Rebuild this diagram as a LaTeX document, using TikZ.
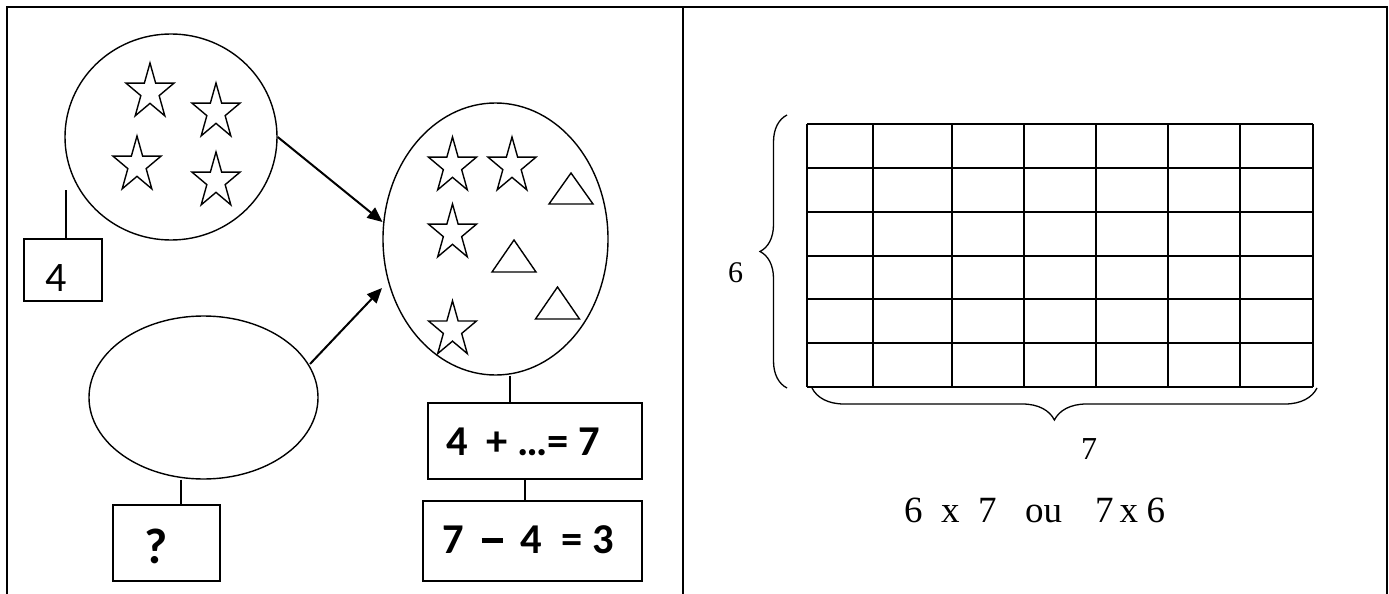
\documentclass[tikz,border=0pt]{standalone}
\usepackage{fontspec}
\setmainfont{Carlito}
\newfontfamily\timesf{Liberation Serif}
\usetikzlibrary{shapes.geometric,arrows.meta,calc,decorations.pathreplacing}
\newcommand{\mystar}[2]{%
  \draw[starline] ({#1},{#2-29.2})
    \foreach \a/\r in {-54/0.382,-18/1,18/0.382,54/1,90/0.382,126/1,162/0.382,198/1,234/0.382}
    { -- ({#1+25.2*\r*cos(\a)},{#2+29.2*\r*sin(\a)}) } -- cycle;}
\newcommand{\mytri}[3]{% apex x, apex y, base y
  \draw[starline] ({#1},{#2}) -- ({#1-22},{#3}) -- ({#1+22},{#3}) -- cycle;}
\newcommand{\bigminus}{\raisebox{10.5pt}{\rule{21pt}{4.2pt}}}
\begin{document}
\begin{tikzpicture}[x=1pt,y=-1pt,
  frameline/.style={line width=2.3pt},
  shp/.style={draw, line width=1.4pt, inner sep=0pt},
  ell/.style={shp, ellipse},
  boxn/.style={shp, rectangle},
  conn/.style={line width=1.4pt},
  arr/.style={line width=2pt, -{Triangle[length=15pt,width=13pt]}},
  starline/.style={line width=1.4pt, line join=miter},
  gridline/.style={line width=2.2pt},
  bracel/.style={decorate, line width=1.3pt},
  calib/.style={inner sep=0pt, anchor=base west, font=\fontsize{42}{42}\selectfont},
  calibb/.style={inner sep=0pt, anchor=base west, font=\fontsize{42.5}{42.5}\selectfont\bfseries},
  tms/.style={inner sep=0pt, anchor=base west, font=\timesf\fontsize{#1}{#1}\selectfont}]
\useasboundingbox (0,0) rectangle (1389,594);
% frame
\draw[frameline] (7,594) -- (7,7) -- (1387,7) -- (1387,594);
\draw[frameline] (683,7) -- (683,594);

% ---------- left panel ----------
\node[ell, minimum width=212pt, minimum height=206pt] (c1) at (171,137) {};
\node[ell, minimum width=225pt, minimum height=272pt] (e2) at (495.5,239) {};
\node[ell, minimum width=229pt, minimum height=163pt] (e3) at (203.5,397.5) {};

\node[boxn, minimum width=78pt, minimum height=62pt] (b4) at (63,270) {};
\node[boxn, minimum width=107pt, minimum height=76pt] (bq) at (166.5,543) {};
\node[boxn, minimum width=214pt, minimum height=76pt] (ba) at (535,441) {};
\node[boxn, minimum width=219pt, minimum height=80pt] (bb) at (532.5,541) {};

\node[calib] (t4) at (45,291) {4};
\node[inner sep=0pt, anchor=base west, font=\fontsize{50}{50}\selectfont\bfseries] (tq) at (144,563) {?};
\node[calibb] (ta) at (446,455) {4~~+ …= 7};
\node[calibb] (tb) at (442,553) {7\hspace{18pt}\bigminus\hspace{18pt}4~~= 3};

% connectors
\coordinate (c4top) at (66,190);
\draw[conn] (c4top) -- (c4top |- b4.north);
\draw[conn] ($(e3.south)+(-22.5,0)$) -- ($(bq.north)+(14.5,0)$);
\draw[conn] ($(e2.south)+(14.5,0)$) -- ($(ba.north)+(-25,0)$);
\draw[conn] ($(ba.south)+(-10,0)$) -- ($(bb.north)+(-7.5,0)$);
\draw[arr] (c1.east) -- ($(e2.center)+(-113,-17)$);
\draw[arr] ($(e3.center)+(106.5,-33.5)$) -- ($(e2.center)+(-113.5,49)$);

% stars
\mystar{150}{92.2}
\mystar{216}{112.2}
\mystar{137}{165.2}
\mystar{216}{181.2}
\mystar{452.5}{166.2}
\mystar{512}{166.2}
\mystar{452.5}{233.2}
\mystar{452.5}{330}
% triangles
\mytri{571}{173}{204}
\mytri{514}{240}{272}
\mytri{557.5}{287}{319}

% ---------- right panel ----------
\foreach \yy in {124,168,212,256,299,343,387}
  \draw[gridline] (807,\yy) -- (1313,\yy);
\foreach \xx in {807,873,952,1024,1096,1168,1240,1313}
  \draw[gridline] (\xx,124) -- (\xx,387);
\coordinate (gl1) at (787,388);
\coordinate (gl2) at (787,115);
\draw[bracel, decoration={brace, amplitude=27pt}] (gl1) -- (gl2);
\coordinate (gb1) at (1317,388);
\coordinate (gb2) at (812,388);
\draw[bracel, decoration={brace, amplitude=32pt, aspect=0.52}] (gb1) -- (gb2);

\node[tms=30] (l6) at (728,282) {6};
\node[tms=32] (l7) at (1081,459) {7};
\node[tms=37] (prod) at (904,522) {6\hspace{18.5pt}x\hspace{18.5pt}7\hspace{28.5pt}ou\hspace{33pt}7\hspace{6pt}x\hspace{8.5pt}6};
\end{tikzpicture}
\end{document}
